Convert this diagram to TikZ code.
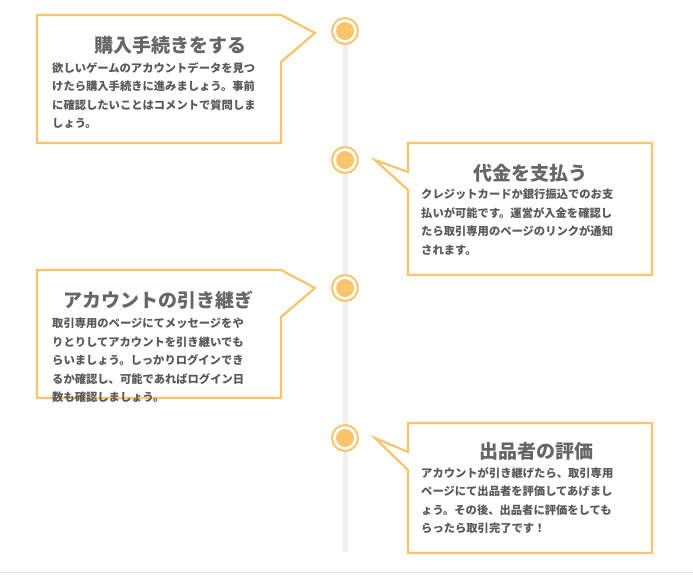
\documentclass[tikz,border=0pt]{standalone}
\usepackage{fontspec}
\setmainfont{Noto Sans CJK JP}
\begin{document}
\begin{tikzpicture}[x=1pt,y=-1pt,
  box/.style={line width=2.2pt, fill=white, line join=miter},
  ttl/.style={font=\fontsize{19}{22}\selectfont\bfseries, text=black!60},
  body/.style={font=\fontsize{11.3}{18.5}\selectfont\bfseries, text=black!65, align=left, anchor=north west, inner sep=0pt},
  ring/.style={line width=2pt, fill=white}]
\definecolor{og}{HTML}{F9C46A}
\useasboundingbox (0,0) rectangle (693,575);
\fill[white] (0,0) rectangle (693,575);
\draw[black!12] (0,572) -- (693,572);
\coordinate (ltop) at (345,31);
\coordinate (lbot) at (345,552);
\draw[black!6, line width=5pt] (ltop) -- (lbot);
% box1
\draw[box,draw=og] (37,15) -- (281,15) -- (315,33) -- (281,62) -- (281,143) -- (37,143) -- cycle;
\node[ttl] (t1) at (170,45) {購入手続きをする};
\node[body] (b1) at (52,62) {欲しいゲームのアカウントデータを見つ\\けたら購入手続きに進みましょう。事前\\に確認したいことはコメントで質問しま\\しょう。};
% box2
\draw[box,draw=og] (652,143) -- (408,143) -- (408,172) -- (375,160) -- (408,190) -- (408,275) -- (652,275) -- cycle;
\node[ttl] (t2) at (530,173) {代金を支払う};
\node[body] (b2) at (421,189) {クレジットカードか銀行振込でのお支\\払いが可能です。運営が入金を確認し\\たら取引専用のページのリンクが通知\\されます。};
% box3
\draw[box,draw=og] (37,270) -- (281,270) -- (315,288) -- (281,317) -- (281,398) -- (37,398) -- cycle;
\node[ttl] (t3) at (158,300) {アカウントの引き継ぎ};
\node[body] (b3) at (52,318) {取引専用のページにてメッセージをや\\りとりしてアカウントを引き継いでも\\らいましょう。しっかりログインでき\\るか確認し、可能であればログイン日\\数も確認しましょう。};
% box4
\draw[box,draw=og] (652,423) -- (408,423) -- (408,452) -- (375,438) -- (408,470) -- (408,553) -- (652,553) -- cycle;
\node[ttl] (t4) at (536,451) {出品者の評価};
\node[body] (b4) at (421,467) {アカウントが引き継げたら、取引専用\\ページにて出品者を評価してあげまし\\ょう。その後、出品者に評価をしても\\らったら取引完了です！};
% circles
\foreach \n/\y in {c1/31,c2/160,c3/288,c4/438}{
  \node[circle, ring, draw=og, minimum size=26pt, inner sep=0pt] (\n) at (345,\y) {};
  \fill[og] (\n.center) circle (9pt);
}
\end{tikzpicture}
\end{document}
